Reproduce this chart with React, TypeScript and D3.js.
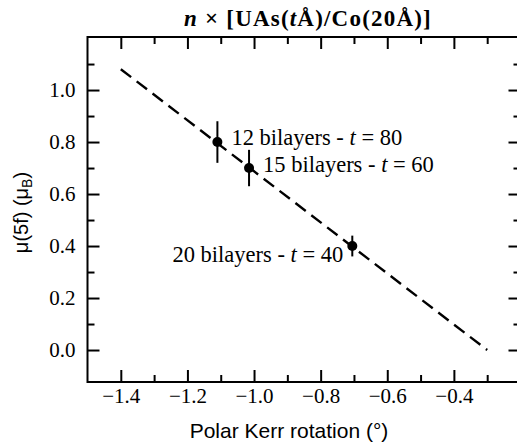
import { useEffect, useRef } from "react";
import * as d3 from "d3";

// measured values
const kerr = [-1.11, -1.015, -0.705];
const moment = [0.8, 0.7, 0.4];
const momentErr = [0.08, 0.07, 0.04];
const bilayers = [12, 15, 20];
const thickness = [80, 60, 40];

// linear fit (dashed)
const fitX = [-1.4, -0.3];
const fitY = [1.08, 0.0];

const xMajor = [-1.4, -1.2, -1.0, -0.8, -0.6, -0.4];
const xMinor = [-1.3, -1.1, -0.9, -0.7, -0.5, -0.3];
const yMajor = [0.0, 0.2, 0.4, 0.6, 0.8, 1.0];
const yMinor = [0.1, 0.3, 0.5, 0.7, 0.9, 1.1];

const serif = "Liberation Serif, Tinos, DejaVu Serif, Times New Roman, serif";
const sans = "Liberation Sans, Arimo, Arial, sans-serif";

export default function App() {
  const svgRef = useRef<SVGSVGElement | null>(null);
  const width = 517;
  const height = 447;
  const left = 87.5, right = 520.5, top = 37, bottom = 382;

  useEffect(() => {
    if (!svgRef.current) return;
    const svg = d3.select(svgRef.current);
    svg.selectAll("*").remove();

    const x = d3.scaleLinear().domain([-1.5, -0.2]).range([left, right]);
    const y = d3.scaleLinear().domain([-0.123, 1.204]).range([bottom, top]);

    const fmt = d3.format(".1f");

    // ticks, all pointing inward
    const addAxis = (axis: d3.Axis<d3.NumberValue>, tx: number, ty: number, labels: boolean) => {
      const g = svg.append("g").attr("transform", `translate(${tx},${ty})`).call(axis);
      g.select(".domain").remove();
      g.attr("font-family", null).attr("font-size", null);
      g.selectAll("line").attr("stroke", "#000").attr("stroke-width", 2);
      if (!labels) g.selectAll("text").remove();
      return g;
    };

    const xb = addAxis(d3.axisBottom(x).tickValues(xMajor).tickSize(-12).tickPadding(6).tickFormat(d => fmt(d as number)), 0, bottom, true);
    addAxis(d3.axisBottom(x).tickValues(xMinor).tickSize(-7).tickFormat(() => ""), 0, bottom, false);
    addAxis(d3.axisTop(x).tickValues(xMajor).tickSize(-12), 0, top, false);
    addAxis(d3.axisTop(x).tickValues(xMinor).tickSize(-7), 0, top, false);

    const yl = addAxis(d3.axisLeft(y).tickValues(yMajor).tickSize(-12).tickPadding(12).tickFormat(d => fmt(d as number)), left, 0, true);
    addAxis(d3.axisLeft(y).tickValues(yMinor).tickSize(-7), left, 0, false);
    addAxis(d3.axisRight(y).tickValues(yMajor).tickSize(-12), right, 0, false);
    addAxis(d3.axisRight(y).tickValues(yMinor).tickSize(-7), right, 0, false);

    xb.selectAll("text").style("font-family", serif).style("font-size", "21px").attr("fill", "#000");
    yl.selectAll("text").style("font-family", serif).style("font-size", "21px").attr("fill", "#000");

    // frame
    svg.append("rect")
      .attr("x", left).attr("y", top)
      .attr("width", right - left).attr("height", bottom - top)
      .attr("fill", "none").attr("stroke", "#000").attr("stroke-width", 2);

    // dashed fit line
    const line = d3.line<number>().x((_, i) => x(fitX[i])).y(d => y(d));
    svg.append("path")
      .attr("d", line(fitY))
      .attr("fill", "none")
      .attr("stroke", "#000")
      .attr("stroke-width", 2.4)
      .attr("stroke-dasharray", "13,7");

    // error bars + points
    kerr.forEach((k, i) => {
      svg.append("line")
        .attr("x1", x(k)).attr("x2", x(k))
        .attr("y1", y(moment[i] - momentErr[i]))
        .attr("y2", y(moment[i] + momentErr[i]))
        .attr("stroke", "#000").attr("stroke-width", 2);
      svg.append("circle")
        .attr("cx", x(k)).attr("cy", y(moment[i]))
        .attr("r", 5).attr("fill", "#000");
    });

    // point labels
    const offsets = [[14, 3, "start"], [14, 4, "start"], [-9, 16, "end"]] as const;
    kerr.forEach((k, i) => {
      const t = svg.append("text")
        .attr("x", x(k) + offsets[i][0])
        .attr("y", y(moment[i]) + offsets[i][1])
        .attr("text-anchor", offsets[i][2])
        .style("font-family", serif)
        .style("font-size", "22.5px");
      t.append("tspan").text(`${bilayers[i]} bilayers - `);
      t.append("tspan").style("font-style", "italic").text("t");
      t.append("tspan").text(` = ${thickness[i]}`);
    });

    // title
    const title = svg.append("text")
      .attr("x", 308).attr("y", 26)
      .attr("text-anchor", "middle")
      .style("font-family", serif)
      .style("font-weight", "bold")
      .style("font-size", "23px")
      .style("letter-spacing", "1.2px");
    title.append("tspan").style("font-style", "italic").text("n");
    title.append("tspan").text(" × [UAs(");
    title.append("tspan").style("font-style", "italic").text("t");
    title.append("tspan").text("Å)/Co(20Å)]");

    // axis labels
    svg.append("text")
      .attr("x", 289).attr("y", 438)
      .attr("text-anchor", "middle")
      .style("font-family", sans)
      .style("font-size", "21px")
      .text("Polar Kerr rotation (°)");

    const yt = svg.append("text")
      .attr("transform", `translate(28,${(top + bottom) / 2 + 3}) rotate(-90)`)
      .attr("text-anchor", "middle")
      .style("font-family", sans)
      .style("font-size", "20px");
    yt.append("tspan").text("μ(5f) (μ");
    yt.append("tspan").style("font-size", "14px").attr("dy", 4).text("B");
    yt.append("tspan").attr("dy", -4).text(")");
  }, []);

  return (
    <svg
      ref={svgRef}
      width={width}
      height={height}
      style={{ position: "absolute", left: 0, top: 0, background: "#fff" }}
    />
  );
}
